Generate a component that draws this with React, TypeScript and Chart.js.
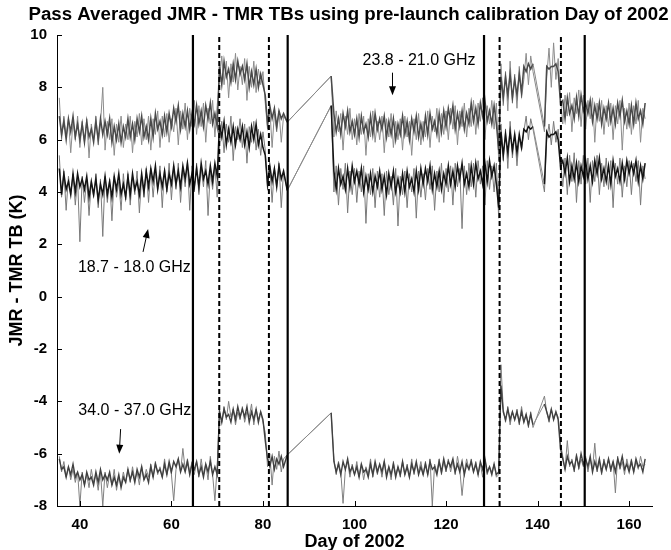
import React, { useEffect, useRef } from "react";
import { Chart, registerables } from "chart.js";
Chart.register(...registerables);

// Day of 2002 for each pass-averaged sample (gaps 85-95 and 139-141.5 are joined by straight lines)
const days = [
  35.5,36,36.5,37,37.5,38,38.5,39,39.5,40,
  40.5,41,41.5,42,42.5,43,43.5,44,44.5,45,
  45.5,46,46.5,47,47.5,48,48.5,49,49.5,50,
  50.5,51,51.5,52,52.5,53,53.5,54,54.5,55,
  55.5,56,56.5,57,57.5,58,58.5,59,59.5,60,
  60.5,61,61.5,62,62.5,63,63.5,64,64.5,65,
  65.5,66,66.5,67,67.5,68,68.5,69,69.5,70,
  70.5,71,71.5,72,72.5,73,73.5,74,74.5,75,
  75.5,76,76.5,77,77.5,78,78.5,79,79.5,80,
  80.5,81,81.5,82,82.5,83,83.5,84,84.5,85.3,
  94.9,
  95.5,96,96.5,97,97.5,98,98.5,99,99.5,100,
  100.5,101,101.5,102,102.5,103,103.5,104,104.5,105,
  105.5,106,106.5,107,107.5,108,108.5,109,109.5,110,
  110.5,111,111.5,112,112.5,113,113.5,114,114.5,115,
  115.5,116,116.5,117,117.5,118,118.5,119,119.5,120,
  120.5,121,121.5,122,122.5,123,123.5,124,124.5,125,
  125.5,126,126.5,127,127.5,128,128.5,129,129.5,130,
  130.5,131,131.5,132,132.5,133,133.5,134,134.5,135,
  135.5,136,136.5,137,137.5,138,138.5,139,
  141.5,142,142.5,143,143.5,144,144.5,145,
  145.5,146,146.5,147,147.5,148,148.5,149,149.5,150,
  150.5,151,151.5,152,152.5,153,153.5,154,154.5,155,
  155.5,156,156.5,157,157.5,158,158.5,159,159.5,160,
  160.5,161,161.5,162,162.5,163,163.5,
];

// 23.8 - 21.0 GHz: wide scatter (light) and dense core (dark)
const s238Spread = [
  7.6,6.0,6.9,6.1,6.8,5.5,6.7,6.0,6.9,5.7,
  6.7,5.9,6.8,5.3,6.6,6.0,6.9,5.8,6.6,8.0,
  5.6,6.7,6.0,6.8,5.4,6.6,5.9,6.9,5.7,6.6,
  6.0,6.9,5.5,6.7,6.1,7.0,5.8,6.8,6.0,6.9,
  5.6,6.8,6.2,7.1,5.7,6.9,6.1,7.0,5.9,6.8,
  6.3,7.2,5.8,7.1,6.4,7.4,6.0,7.2,6.5,7.5,
  6.2,7.3,6.5,7.4,5.9,7.2,6.6,7.5,6.1,7.3,
  8.3,9.2,8.1,9.0,7.6,8.9,8.2,9.3,7.9,8.8,
  8.1,9.1,7.5,8.8,8.0,9.0,7.8,8.7,8.1,8.6,
  7.4,6.4,7.2,5.7,7.0,6.3,7.1,5.9,6.9,6.67,
  8.43,
  6.1,7.1,6.3,7.0,5.6,6.9,6.2,7.2,6.0,6.8,
  5.8,7.0,6.2,6.9,5.4,6.8,6.1,7.1,5.9,6.7,
  6.0,6.9,5.5,6.8,6.1,7.0,5.7,6.7,6.0,6.8,
  5.6,6.9,6.1,6.7,5.4,6.8,6.0,7.0,5.8,6.7,
  6.1,7.1,5.7,6.9,6.3,7.2,5.9,7.0,6.2,7.1,
  6.0,7.2,6.4,7.3,5.8,7.1,6.5,7.4,6.1,7.2,
  6.5,7.5,6.2,7.4,6.7,7.6,6.0,7.3,6.6,7.5,
  6.4,7.4,5.2,8.9,7.3,8.6,7.1,9.0,7.4,8.5,
  7.2,8.8,7.6,8.3,9.3,8.1,9.2,8.6,
  6.3,8.4,9.5,8.0,9.7,8.3,9.1,7.6,
  6.6,7.7,6.9,7.8,6.3,7.6,7.0,7.9,6.5,7.7,
  6.4,7.5,6.8,7.6,5.9,7.4,6.7,7.5,6.2,7.3,
  6.5,7.4,6.0,7.3,6.6,7.5,5.6,7.2,6.4,7.4,
  6.2,7.3,6.6,7.5,5.9,7.2,6.8,
];
const s238Core = [
  6.9,6.2,6.7,6.0,6.8,6.3,6.9,6.1,6.6,6.0,
  6.6,5.9,6.7,6.1,6.4,5.9,6.7,6.0,6.8,6.2,
  6.7,6.2,6.8,5.9,6.5,6.0,6.6,5.9,6.5,6.1,
  6.8,6.1,6.6,6.0,6.8,6.3,6.9,6.1,6.5,6.0,
  6.8,6.1,7.0,6.4,6.7,6.2,6.9,6.3,7.0,6.5,
  7.2,6.7,7.3,6.4,7.0,6.5,7.1,6.4,7.0,6.6,
  7.3,6.6,7.1,6.5,7.3,6.8,7.4,6.6,7.0,6.5,
  8.8,8.1,9.0,8.4,8.7,8.2,8.9,8.3,9.0,8.5,
  8.8,8.3,8.9,8.0,8.6,8.1,8.7,8.0,8.5,8.1,
  7.7,6.6,7.3,6.8,7.2,6.5,7.1,6.8,7.0,6.67,
  8.43,
  7.0,6.3,6.8,6.2,7.0,6.5,7.1,6.3,6.7,6.2,
  6.8,6.1,6.9,6.3,6.6,6.1,6.9,6.2,7.0,6.4,
  6.8,6.4,6.9,6.1,6.7,6.2,6.8,6.0,6.6,6.2,
  6.9,6.2,6.7,6.0,6.8,6.3,6.9,6.1,6.6,6.1,
  6.9,6.2,7.0,6.4,6.7,6.2,7.0,6.3,7.1,6.5,
  7.2,6.7,7.3,6.4,7.0,6.5,7.1,6.4,7.0,6.6,
  7.4,6.7,7.2,6.6,7.4,6.9,7.5,6.7,7.1,6.6,
  7.3,6.6,5.6,8.4,7.6,8.4,7.7,8.5,7.6,8.3,
  7.7,8.5,7.8,8.8,8.6,8.9,8.7,8.9,
  6.5,8.8,8.7,8.8,8.8,8.9,8.6,7.4,
  7.5,6.8,7.6,7.0,7.3,6.8,7.6,6.9,7.7,7.1,
  7.4,7.0,7.5,6.7,7.3,6.8,7.4,6.6,7.2,6.8,
  7.4,6.7,7.2,6.6,7.4,6.9,7.5,6.7,7.1,6.6,
  7.3,6.6,7.4,6.8,7.1,6.6,7.4,
];

// 18.7 - 18.0 GHz
const s187Spread = [
  5.4,3.8,4.8,3.3,4.6,3.9,4.7,3.5,4.5,2.1,
  4.6,3.6,4.5,3.1,4.4,3.8,4.7,3.4,4.5,2.3,
  4.6,3.6,4.5,2.9,4.6,3.8,4.4,3.3,4.7,3.7,
  4.7,3.5,4.6,3.9,4.8,3.2,4.6,3.8,4.9,3.6,
  4.9,3.8,4.8,4.1,5.0,3.4,4.9,4.0,5.1,3.7,
  5.0,4.1,5.1,3.6,4.9,4.2,5.2,3.3,5.0,4.0,
  5.1,3.9,4.9,4.2,5.2,3.1,4.8,4.1,5.0,3.8,
  5.8,6.7,5.5,6.6,5.9,6.9,5.2,6.5,6.0,6.8,
  5.7,6.6,5.1,6.5,5.9,6.7,5.6,6.4,5.4,6.3,
  5.6,4.1,5.0,3.6,4.9,4.2,5.1,3.4,4.8,4.06,
  7.3,
  4.0,5.0,3.5,4.9,4.1,5.1,3.2,4.8,3.9,4.9,
  3.6,4.8,4.0,5.0,2.8,4.7,3.9,4.9,3.4,4.8,
  3.8,4.7,3.1,4.8,3.9,4.6,3.5,4.9,2.7,4.6,
  3.9,4.8,3.4,4.7,4.0,4.9,3.0,4.8,3.8,4.7,
  3.7,4.9,4.1,5.0,3.3,4.8,4.0,5.1,3.6,4.9,
  4.0,5.0,3.5,5.1,4.2,4.9,2.6,5.0,3.9,5.1,
  4.2,5.1,3.8,5.2,4.3,5.0,3.5,5.2,4.1,5.0,
  4.0,5.1,3.0,6.6,5.2,6.4,4.9,6.7,5.3,6.2,
  5.0,6.1,5.6,6.3,6.9,6.0,6.8,6.4,
  4.0,6.0,6.6,5.8,6.7,5.9,6.4,5.2,
  4.2,5.3,3.9,5.4,4.4,5.5,3.6,5.2,4.3,5.4,
  4.3,5.3,3.6,5.2,4.4,5.4,3.9,5.1,4.2,5.3,
  4.1,5.2,3.4,5.1,4.3,5.3,3.8,5.0,4.2,5.2,
  3.9,5.1,4.4,5.2,3.5,5.0,4.5,
];
const s187Core = [
  4.9,3.9,4.7,4.1,4.4,3.9,4.7,4.0,4.7,4.2,
  4.5,4.1,4.6,3.8,4.4,3.9,4.5,3.7,4.3,3.9,
  4.6,3.9,4.4,3.8,4.6,4.1,4.7,3.9,4.3,3.8,
  4.6,3.9,4.7,4.1,4.4,3.9,4.7,4.0,4.8,4.2,
  4.9,4.4,5.0,4.1,4.7,4.2,4.8,4.1,4.7,4.3,
  5.0,4.3,4.8,4.2,5.0,4.5,5.1,4.3,4.7,4.2,
  4.9,4.2,5.1,4.5,4.8,4.3,5.0,4.4,5.1,4.6,
  6.6,6.1,6.7,5.8,6.4,5.9,6.5,5.8,6.4,6.0,
  6.5,5.8,6.3,5.7,6.5,6.0,6.6,5.8,6.2,5.7,
  5.4,4.3,5.0,4.4,4.9,4.2,5.0,4.5,4.8,4.06,
  7.3,
  4.8,4.1,4.9,4.3,4.6,4.1,4.9,4.2,5.0,4.4,
  4.8,4.3,4.9,4.0,4.6,4.1,4.7,4.0,4.6,4.2,
  4.8,4.1,4.6,3.9,4.7,4.2,4.8,4.0,4.5,4.0,
  4.7,4.0,4.8,4.2,4.5,4.0,4.8,4.1,4.9,4.3,
  4.9,4.4,5.0,4.1,4.7,4.2,4.8,4.1,4.7,4.3,
  5.0,4.3,4.8,4.2,5.0,4.5,5.1,4.3,4.7,4.2,
  5.0,4.3,5.1,4.5,4.8,4.3,5.1,4.4,5.2,4.6,
  5.0,4.3,3.4,6.3,5.4,6.2,5.5,6.3,5.6,6.2,
  5.5,6.2,5.7,6.4,6.3,6.5,6.4,6.5,
  4.3,6.3,6.1,6.2,6.2,6.3,6.0,5.0,
  5.2,4.7,5.3,4.4,5.0,4.5,5.1,4.4,5.0,4.6,
  5.2,4.5,5.0,4.4,5.2,4.7,5.3,4.5,4.9,4.4,
  5.0,4.3,5.2,4.6,4.9,4.4,5.1,4.5,5.2,4.7,
  5.1,4.7,5.2,4.4,5.0,4.5,5.1,
];

// 34.0 - 37.0 GHz
const s340Spread = [
  -6.1,-6.7,-6.3,-6.9,-6.5,-7.0,-6.6,-7.1,-6.7,-8.0,
  -6.7,-7.2,-6.8,-7.3,-6.6,-7.1,-6.8,-7.4,-6.7,-8.0,
  -6.7,-7.3,-6.8,-7.2,-6.6,-7.4,-6.9,-7.2,-6.7,-7.1,
  -6.6,-7.1,-6.5,-7.0,-6.7,-7.2,-6.5,-7.0,-6.6,-6.9,
  -6.4,-6.9,-6.3,-6.8,-6.5,-6.9,-6.2,-6.8,-6.4,-6.8,
  -7.8,-6.6,-6.2,-6.7,-5.8,-6.6,-6.2,-6.7,-6.3,-6.8,
  -6.3,-6.9,-6.2,-6.8,-6.4,-7.0,-6.1,-6.8,-7.8,-6.5,
  -4.3,-4.8,-4.2,-4.7,-4.0,-4.6,-4.3,-4.9,-4.4,-4.7,
  -4.2,-4.8,-4.4,-4.6,-4.1,-4.9,-4.3,-4.7,-4.4,-4.8,
  -5.2,-6.5,-6.0,-7.2,-6.1,-6.6,-5.9,-6.7,-6.2,-6.05,
  -4.44,
  -6.2,-6.8,-6.3,-6.7,-7.9,-6.6,-6.3,-6.9,-6.4,-6.8,
  -6.3,-6.9,-6.4,-7.0,-6.5,-6.8,-6.2,-6.9,-6.4,-6.8,
  -6.4,-6.9,-6.3,-6.8,-6.5,-7.0,-6.3,-6.8,-6.5,-6.9,
  -6.3,-6.8,-6.4,-6.9,-6.2,-6.8,-6.4,-6.7,-6.3,-6.8,
  -6.3,-6.8,-6.2,-8.0,-6.4,-6.7,-6.2,-6.8,-6.3,-6.7,
  -6.2,-6.7,-6.3,-6.8,-6.1,-6.6,-7.6,-6.7,-6.2,-6.6,
  -6.2,-6.7,-6.3,-6.8,-6.4,-6.9,-6.2,-6.8,-6.5,-6.7,
  -6.4,-6.9,-6.8,-2.6,-4.3,-4.8,-4.2,-4.9,-4.4,-4.7,
  -4.3,-4.9,-4.2,-4.8,-4.5,-5.0,-4.4,-5.0,
  -3.8,-4.4,-4.8,-4.3,-4.7,-4.4,-4.6,-5.6,
  -6.1,-6.6,-5.5,-6.5,-6.2,-6.7,-6.0,-6.6,-6.2,-6.5,
  -6.1,-6.7,-6.2,-6.6,-5.6,-6.7,-6.3,-6.8,-6.2,-6.6,
  -6.2,-6.7,-6.3,-7.5,-6.1,-6.6,-6.3,-6.8,-6.2,-6.6,
  -6.2,-6.7,-6.3,-6.6,-6.1,-6.5,-6.4,
];
const s340Core = [
  -6.2,-6.6,-6.5,-6.9,-6.5,-6.8,-6.4,-6.9,-6.7,-7.0,
  -6.8,-7.2,-6.7,-7.0,-6.9,-7.2,-6.7,-7.1,-6.6,-7.0,
  -6.8,-7.0,-6.7,-7.2,-6.9,-7.2,-6.8,-7.3,-6.9,-7.1,
  -6.6,-7.0,-6.7,-7.1,-6.6,-6.9,-6.5,-7.0,-6.8,-7.1,
  -6.5,-6.9,-6.4,-6.7,-6.6,-6.9,-6.4,-6.8,-6.3,-6.7,
  -6.3,-6.5,-6.2,-6.7,-6.4,-6.7,-6.3,-6.8,-6.4,-6.6,
  -6.3,-6.8,-6.5,-6.9,-6.4,-6.7,-6.3,-6.8,-6.5,-6.8,
  -4.4,-4.8,-4.3,-4.6,-4.5,-4.8,-4.3,-4.7,-4.2,-4.6,
  -4.3,-4.6,-4.2,-4.8,-4.4,-4.7,-4.3,-4.8,-4.4,-4.7,
  -5.5,-6.2,-6.5,-6.1,-6.6,-6.2,-6.4,-6.1,-6.5,-6.05,
  -4.44,
  -6.3,-6.7,-6.4,-6.8,-6.3,-6.6,-6.2,-6.7,-6.5,-6.8,
  -6.5,-6.9,-6.4,-6.7,-6.6,-6.9,-6.4,-6.8,-6.3,-6.7,
  -6.4,-6.7,-6.3,-6.9,-6.5,-6.8,-6.4,-6.9,-6.5,-6.8,
  -6.3,-6.8,-6.5,-6.9,-6.4,-6.7,-6.3,-6.8,-6.5,-6.8,
  -6.4,-6.8,-6.3,-6.6,-6.5,-6.8,-6.3,-6.7,-6.2,-6.6,
  -6.3,-6.5,-6.2,-6.7,-6.4,-6.7,-6.3,-6.8,-6.4,-6.6,
  -6.3,-6.7,-6.4,-6.8,-6.3,-6.6,-6.2,-6.7,-6.5,-6.8,
  -6.4,-6.8,-6.7,-3.4,-4.4,-4.7,-4.3,-4.7,-4.4,-4.7,
  -4.4,-4.8,-4.4,-4.8,-4.5,-4.9,-4.5,-4.9,
  -4.1,-4.4,-4.7,-4.3,-4.7,-4.4,-4.7,-5.8,
  -6.2,-6.6,-6.1,-6.4,-6.3,-6.6,-6.1,-6.5,-6.0,-6.4,
  -6.2,-6.5,-6.1,-6.7,-6.3,-6.6,-6.2,-6.7,-6.3,-6.6,
  -6.2,-6.6,-6.3,-6.7,-6.2,-6.5,-6.1,-6.6,-6.4,-6.7,
  -6.3,-6.7,-6.2,-6.5,-6.4,-6.7,-6.2,
];

const xTicks = [40, 60, 80, 100, 120, 140, 160];
const yTicks = [-8, -6, -4, -2, 0, 2, 4, 6, 8, 10];
const solidLines = [64.7, 85.4, 128.3, 150.3];
const dashedLines = [70.45, 81.3, 131.7, 145.1];

const chartTitle = "Pass Averaged JMR - TMR TBs using pre-launch calibration Day of 2002";
const seriesLabels = [
  { text: "23.8 - 21.0 GHz", x: 114.1, y: 9.04 },
  { text: "18.7 - 18.0 GHz", x: 51.9, y: 1.1 },
  { text: "34.0 - 37.0 GHz", x: 52.0, y: -4.37 },
];
const arrows = [
  { x0: 108.3, y0: 8.56, x1: 108.3, y1: 7.7 },
  { x0: 53.8, y0: 1.71, x1: 54.9, y1: 2.59 },
  { x0: 48.9, y0: -5.06, x1: 48.6, y1: -6.0 },
];

const FONT = "'Liberation Sans', Arial, Helvetica, sans-serif";

function toPoints(vals: number[]) {
  const n = Math.min(days.length, vals.length);
  const out: { x: number; y: number }[] = [];
  for (let i = 0; i < n; i++) out.push({ x: days[i], y: vals[i] });
  return out;
}

// segments that bridge a data gap are drawn as thin light lines
const isGap = (ctx: any) => Math.abs(ctx.p1.parsed.x - ctx.p0.parsed.x) > 1.5;

const decorPlugin = {
  id: "decor",
  afterDraw(chart: any) {
    const { ctx, chartArea, scales } = chart;
    const xs = scales.x;
    const ys = scales.y;
    ctx.save();
    ctx.strokeStyle = "#000";
    ctx.lineWidth = 1;
    ctx.beginPath();
    for (const t of xTicks) {
      const px = Math.round(xs.getPixelForValue(t)) + 0.5;
      ctx.moveTo(px, chartArea.bottom);
      ctx.lineTo(px, chartArea.bottom - 5);
    }
    for (const t of yTicks) {
      const py = Math.round(ys.getPixelForValue(t)) + 0.5;
      ctx.moveTo(chartArea.left, py);
      ctx.lineTo(chartArea.left + 5, py);
    }
    ctx.stroke();

    ctx.fillStyle = "#000";
    ctx.font = `bold 18.7px ${FONT}`;
    ctx.textAlign = "center";
    ctx.textBaseline = "alphabetic";
    ctx.fillText(chartTitle, (chartArea.left + chartArea.right) / 2 - 6, 20);

    ctx.font = `16px ${FONT}`;
    ctx.textBaseline = "middle";
    for (const l of seriesLabels) {
      ctx.fillText(l.text, xs.getPixelForValue(l.x), ys.getPixelForValue(l.y));
    }

    for (const a of arrows) {
      const x0 = xs.getPixelForValue(a.x0);
      const y0 = ys.getPixelForValue(a.y0);
      const x1 = xs.getPixelForValue(a.x1);
      const y1 = ys.getPixelForValue(a.y1);
      const ang = Math.atan2(y1 - y0, x1 - x0);
      const L = 9;
      const W = 3.5;
      ctx.beginPath();
      ctx.moveTo(x0, y0);
      ctx.lineTo(x1 - Math.cos(ang) * L * 0.8, y1 - Math.sin(ang) * L * 0.8);
      ctx.stroke();
      ctx.beginPath();
      ctx.moveTo(x1, y1);
      ctx.lineTo(x1 - Math.cos(ang) * L - Math.sin(ang) * W, y1 - Math.sin(ang) * L + Math.cos(ang) * W);
      ctx.lineTo(x1 - Math.cos(ang) * L + Math.sin(ang) * W, y1 - Math.sin(ang) * L - Math.cos(ang) * W);
      ctx.closePath();
      ctx.fill();
    }
    ctx.restore();
  },
};

export default function App() {
  const ref = useRef<HTMLCanvasElement | null>(null);
  useEffect(() => {
    if (!ref.current) return;
    const vlines: any[] = [];
    solidLines.forEach((d) =>
      vlines.push({
        data: [{ x: d, y: -8 }, { x: d, y: 10 }],
        borderColor: "#000",
        borderWidth: 2.2,
        pointRadius: 0,
        order: 0,
      })
    );
    dashedLines.forEach((d) =>
      vlines.push({
        data: [{ x: d, y: -8 }, { x: d, y: 10 }],
        borderColor: "#000",
        borderWidth: 2,
        borderDash: [5, 3],
        pointRadius: 0,
        order: 0,
      })
    );
    const series = [
      { label: "23.8 spread", data: toPoints(s238Spread), borderColor: "#8c8c8c", borderWidth: 1, order: 6 },
      { label: "18.7 spread", data: toPoints(s187Spread), borderColor: "#7a7a7a", borderWidth: 1, order: 5 },
      { label: "34.0 spread", data: toPoints(s340Spread), borderColor: "#808080", borderWidth: 1, order: 4 },
      { label: "23.8 - 21.0 GHz", data: toPoints(s238Core), borderColor: "#4a4a4a", borderWidth: 1.5, order: 3 },
      { label: "18.7 - 18.0 GHz", data: toPoints(s187Core), borderColor: "#141414", borderWidth: 1.5, order: 2 },
      { label: "34.0 - 37.0 GHz", data: toPoints(s340Core), borderColor: "#404040", borderWidth: 1.4, order: 1 },
    ].map((s) => ({
      ...s,
      pointRadius: 0,
      tension: 0,
      segment: {
        borderColor: (c: any) => (isGap(c) ? "#8a8a8a" : undefined),
        borderWidth: (c: any) => (isGap(c) ? 1 : undefined),
      },
    }));

    const chart = new Chart(ref.current, {
      type: "line",
      data: { datasets: [...vlines, ...series] },
      options: {
        animation: false,
        responsive: false,
        maintainAspectRatio: false,
        parsing: false,
        normalized: true,
        layout: { padding: { top: 35, right: 19, left: 0, bottom: 0 } },
        plugins: { legend: { display: false }, tooltip: { enabled: false }, title: { display: false } },
        scales: {
          x: {
            type: "linear",
            min: 35,
            max: 165,
            afterBuildTicks: (s: any) => {
              s.ticks = xTicks.map((v) => ({ value: v }));
            },
            afterFit: (s: any) => {
              s.height = 44;
            },
            grid: { display: false, drawTicks: false },
            border: { display: true, color: "#000", width: 1 },
            ticks: {
              padding: 10,
              color: "#000",
              font: { family: FONT, size: 15, weight: "bold" },
              maxRotation: 0,
              autoSkip: false,
            },
            title: {
              display: true,
              text: "Day of 2002",
              color: "#000",
              font: { family: FONT, size: 18, weight: "bold" },
              padding: { top: 0, bottom: -3 },
            },
          },
          y: {
            type: "linear",
            min: -8,
            max: 10,
            afterBuildTicks: (s: any) => {
              s.ticks = yTicks.map((v) => ({ value: v }));
            },
            afterFit: (s: any) => {
              s.width = 57;
            },
            grid: { display: false, drawTicks: false },
            border: { display: true, color: "#000", width: 1 },
            ticks: {
              padding: 10,
              color: "#000",
              font: { family: FONT, size: 15, weight: "bold" },
              autoSkip: false,
            },
            title: {
              display: true,
              text: "JMR - TMR TB (K)",
              color: "#000",
              font: { family: FONT, size: 18, weight: "bold" },
              padding: { top: 6, bottom: 0 },
            },
          },
        },
      },
      plugins: [decorPlugin],
    } as any);
    return () => chart.destroy();
  }, []);

  return (
    <div style={{ position: "absolute", left: 0, top: 0, width: 671, height: 550, background: "#fff" }}>
      <canvas ref={ref} width={671} height={550} style={{ width: 671, height: 550, display: "block" }} />
    </div>
  );
}
